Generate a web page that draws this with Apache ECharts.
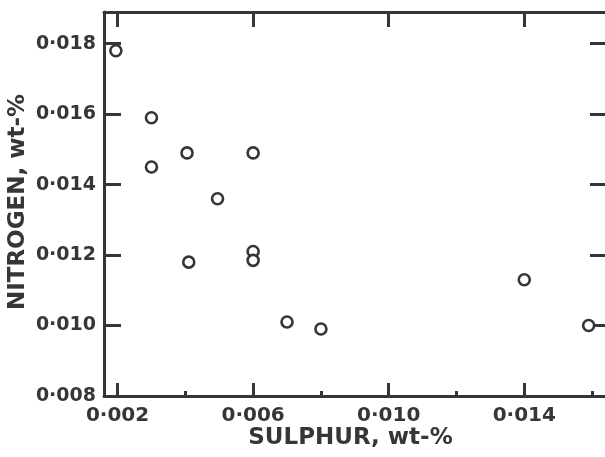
<!DOCTYPE html>
<html>
<head>
<meta charset="utf-8">
<script src="https://cdn.jsdelivr.net/npm/echarts@6/dist/echarts.min.js"></script>
<style>
  html, body { margin: 0; padding: 0; background: #ffffff; }
  #chart { width: 605px; height: 457px; }
</style>
</head>
<body>
<div id="chart"></div>
<script>
// Sulphur vs nitrogen content, wt-%
const sulphur  = [0.00195, 0.0030, 0.0030, 0.00405, 0.0060, 0.00495, 0.0041, 0.0060, 0.0060, 0.0070, 0.0080, 0.0140, 0.0159];
const nitrogen = [0.0178, 0.0159, 0.0145, 0.0149, 0.0149, 0.0136, 0.0118, 0.0121, 0.01185, 0.0101, 0.0099, 0.0113, 0.0100];

// Axis tick positions and their printed labels
const xMajorTicks = [0.002, 0.006, 0.010, 0.014];
const xMinorTicks = [0.004, 0.008, 0.012, 0.016];
const xTickLabels = ['0·002', '0·006', '0·010', '0·014'];
const yTicks      = [0.010, 0.012, 0.014, 0.016, 0.018];
const yLabelTicks = [0.008, 0.010, 0.012, 0.014, 0.016, 0.018];
const yTickLabels = ['0·008', '0·010', '0·012', '0·014', '0·016', '0·018'];

const xTitle = 'SULPHUR, wt-%';
const yTitle = 'NITROGEN, wt-%';

const ink = '#363636';
const font = 'DejaVu Sans';

function labelFor(values, labels) {
  return v => {
    const i = values.findIndex(t => Math.abs(t - v) < 1e-9);
    return i >= 0 ? labels[i] : '';
  };
}

const xRange = { min: 0.0016, max: 0.0165 };
const yRange = { min: 0.008, max: 0.0189 };

const chart = echarts.init(document.getElementById('chart'), null, { renderer: 'canvas' });
chart.setOption({
  animation: false,
  backgroundColor: '#ffffff',
  grid: { left: 104, right: -4, top: 12, bottom: 61, containLabel: false, outerBoundsMode: 'none' },
  // vertical axis title, set beside the tick labels
  graphic: [
    {
      type: 'text',
      x: 18, y: 202,
      rotation: Math.PI / 2,
      style: {
        text: yTitle, fill: ink,
        font: 'bold 23px "DejaVu Sans"',
        align: 'center', verticalAlign: 'middle'
      }
    }
  ],
  xAxis: [
    {
      type: 'value', position: 'bottom', ...xRange,
      name: xTitle, nameLocation: 'middle', nameGap: 31, nameMoveOverlap: false,
      nameTextStyle: { color: ink, fontFamily: font, fontWeight: 'bold', fontSize: 23, padding: [0, 12, 0, 0] },
      axisLine: { show: true, lineStyle: { color: ink, width: 3 } },
      axisTick: { show: true, inside: true, length: 13, customValues: xMajorTicks, lineStyle: { color: ink, width: 3 } },
      axisLabel: { show: true, customValues: xMajorTicks, margin: 10, formatter: labelFor(xMajorTicks, xTickLabels),
        color: ink, fontFamily: font, fontWeight: 'bold', fontSize: 20 },
      splitLine: { show: false }
    },
    {
      type: 'value', position: 'bottom', ...xRange,
      axisLine: { show: false },
      axisTick: { show: true, inside: true, length: 5, customValues: xMinorTicks, lineStyle: { color: ink, width: 3 } },
      axisLabel: { show: false },
      splitLine: { show: false }
    },
    {
      type: 'value', position: 'top', ...xRange,
      axisLine: { show: true, lineStyle: { color: ink, width: 3 } },
      axisTick: { show: true, inside: true, length: 15, customValues: xMajorTicks, lineStyle: { color: ink, width: 3 } },
      axisLabel: { show: false },
      splitLine: { show: false }
    }
  ],
  yAxis: [
    {
      type: 'value', position: 'left', ...yRange,
      axisLine: { show: true, lineStyle: { color: ink, width: 3 } },
      axisTick: { show: true, inside: true, length: 17, customValues: yTicks, lineStyle: { color: ink, width: 3 } },
      axisLabel: { show: true, customValues: yLabelTicks, margin: 8, formatter: labelFor(yLabelTicks, yTickLabels),
        color: ink, fontFamily: font, fontWeight: 'bold', fontSize: 19 },
      splitLine: { show: false }
    },
    {
      type: 'value', position: 'right', ...yRange,
      axisLine: { show: true, lineStyle: { color: ink, width: 3 } },
      axisTick: { show: true, inside: true, length: 19, customValues: yTicks, lineStyle: { color: ink, width: 3 } },
      axisLabel: { show: false },
      splitLine: { show: false }
    }
  ],
  series: [
    {
      type: 'scatter',
      xAxisIndex: 0, yAxisIndex: 0,
      data: sulphur.map((s, i) => [s, nitrogen[i]]),
      symbol: 'circle',
      symbolSize: 11,
      itemStyle: { color: '#ffffff', borderColor: ink, borderWidth: 2.6, opacity: 1 },
      emphasis: { disabled: true }
    }
  ]
});
</script>
</body>
</html>
